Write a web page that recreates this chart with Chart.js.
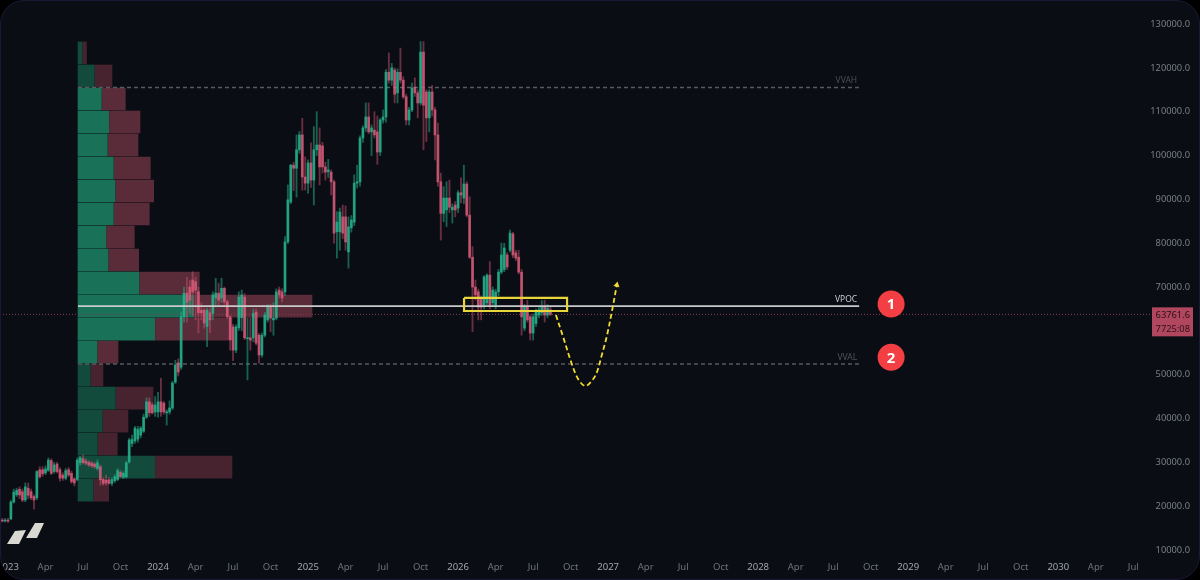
<!DOCTYPE html>
<html>
<head>
<meta charset="utf-8">
<script src="https://cdn.jsdelivr.net/npm/chart.js@4/dist/chart.umd.min.js"></script>
<style>
html,body{margin:0;padding:0;background:#000;width:1200px;height:580px;overflow:hidden}
#frame{position:absolute;left:0;top:0;width:1198px;height:578px;background:#0a0d14;border:1px solid #1c1936;border-radius:24px;overflow:hidden}
#wrap{position:absolute;left:-1px;top:-1px;width:1200px;height:580px}
#logo{position:absolute;left:-1px;top:-1px}
</style>
</head>
<body>
<div id="frame">
<div id="wrap"><canvas id="c" width="1200" height="580"></canvas></div>
<svg id="logo" width="60" height="580"><path fill="#d9d9d2" d="M7 544L15 531L26 530L19 544ZM26 538L35 523L44 523L37 538Z"/></svg>
</div>
<script>
// weekly candles: index 0 is week -2 relative to the first week of 2023
const firstWeek = -2;
const open = [
16700,16600,16800,17100,20950,22600,23850,23300,21400,24100,
23300,22200,21900,28300,28300,27600,28200,30400,27900,29600,
28300,27100,26400,28300,27500,26200,26100,29900,30800,30300,
30000,29800,29600,28600,29000,26100,25900,26000,25200,25800,
26100,27700,26600,26700,30100,34300,34900,35300,36200,37100,
40300,43800,43100,41500,41500,43800,43500,41300,41500,42400,
48300,52700,51700,63200,68600,70000,71600,71200,68900,64700,
64700,61000,64100,64000,67500,68600,67500,69700,66600,63200,
60900,55600,60700,63000,67700,58200,58400,58400,64300,59000,
54500,59000,62500,65400,62500,62900,69300,68900,68900,80300,
89400,97800,97100,101300,104700,95100,93700,98300,94400,101300,
102400,102200,97400,96300,96200,94000,82600,82600,86000,86000,
78000,83500,84800,93700,94000,104000,106300,108800,105400,105800,
105400,100800,108100,108800,119000,117200,119500,114300,119000,117200,
113400,108100,110400,115600,114300,112000,123600,114500,108600,114500,
110400,104700,94000,86800,87600,90300,87600,88700,88000,91500,
90300,93500,86400,76800,70000,68900,67500,65900,66400,72700,
66400,65900,68900,73400,74000,77300,78400,82100,77800,76800,
73400,60600,65400,63200,59500,61700,63600,64100,65400,63600,
64800];
const close = [
16600,16800,16600,20950,23200,23600,22550,21400,24400,22500,
21900,21400,27900,26700,27400,28500,30500,27500,29400,27900,
26400,26400,28100,27100,25600,25300,30500,31000,29900,29800,
29400,29200,29000,29900,26000,25200,25300,25200,26100,26700,
28100,26800,27500,29900,35100,35200,37800,37500,37800,40300,
43800,41300,41300,43100,43800,41500,41500,41500,42400,48100,
52200,50600,63200,68600,66500,67000,68900,69300,64100,64100,
61800,64700,62500,68200,68600,67000,69700,66600,63200,58000,
55600,60900,67700,68200,58400,58400,57900,64000,57200,54500,
59000,63600,65400,62900,62900,68900,68200,67500,80300,89900,
97800,97100,101300,104700,95100,93700,98300,94400,101300,102400,
97400,97400,96200,96700,94000,82300,84800,87100,82300,80300,
83700,85300,93700,94000,104000,106300,108800,105400,106300,104700,
100800,108100,108800,119000,117200,120000,114000,119000,117200,113400,
108100,110400,115400,114300,112000,123600,111500,108600,114500,110400,
104700,94000,86800,90300,90300,88200,88200,87600,91500,91000,
93500,86400,76800,70000,68200,65400,65400,72300,72700,65900,
69300,68900,73400,77300,78900,74600,82300,77300,76600,73400,
63200,65400,62500,59500,63200,64300,64800,65400,63600,65200,
63762];
const high = [
17200,17200,17200,21300,23900,24100,24400,23900,25300,25300,
23900,22600,28100,29000,29000,29200,31000,30800,30000,30000,
28800,27600,28600,28800,28000,26500,31000,31300,31700,30800,
30400,30200,30000,30600,29400,26500,27100,26500,26500,27200,
28600,28200,27900,30200,35500,36200,38200,38200,38200,41000,
44700,44700,43600,45000,46000,49200,43900,42000,44000,48500,
53300,53600,64300,70000,72200,71500,73500,72200,70000,66400,
65200,65200,65200,68900,72000,70900,72000,70000,67000,63500,
61500,61400,68900,69300,68500,62900,62900,65000,65000,59400,
59500,64200,66000,66000,66400,69600,70000,69600,81500,93300,
98000,98500,104700,105500,108500,99700,99000,102900,106600,110000,
106300,103000,98500,99100,96700,94400,87200,88000,88700,88500,
86000,86300,95600,97800,104500,106800,112000,112000,107000,110000,
109000,108500,110400,119600,123400,121000,120000,119800,124500,118000,
114000,111000,116500,117700,115000,126000,126000,115000,115000,116000,
111000,107400,96000,92900,94000,94400,89000,89500,92000,94900,
97800,94000,90600,79200,71600,69500,68000,72600,73000,75800,
70000,69500,74000,80000,80000,77800,83000,82500,78400,78400,
74000,66000,67000,63600,63800,65000,65500,66900,67000,66000,
65500];
const low = [
16400,16400,16300,16900,20700,22200,21700,21000,21000,21700,
21500,19300,21500,26400,26800,27200,27900,27200,27500,27600,
25700,25900,26000,26700,25200,24600,25800,29300,29600,29400,
29000,28800,28600,28200,24800,24800,24800,25000,24700,25400,
25800,26500,26300,26400,29800,33600,34400,34600,35600,36800,
40000,40500,41000,40500,40300,40500,41000,38500,41000,42000,
48000,49700,51200,62000,62000,64000,63500,62500,59500,62500,
60600,56400,59600,62500,66000,66000,66500,66000,62800,55600,
53200,55000,60100,60000,58000,48800,55600,57500,56800,52600,
54000,58600,62000,59800,59000,62500,67500,66600,68000,79900,
89000,92000,90500,100500,92100,92100,91400,92700,88700,100000,
93300,96000,94400,95000,91000,80000,76600,78400,81000,78400,
74300,82500,84000,92600,93000,103000,105500,105000,100000,104000,
98000,100000,107400,107600,116500,116000,112000,112000,116500,113000,
107000,107000,110000,113500,108600,111500,101300,103200,105400,109000,
99000,93000,80700,84900,83800,87000,84600,86000,87000,89200,
89000,86000,76500,59800,67000,62500,62500,65000,66000,65000,
65500,65000,68000,73000,73500,74000,78000,76700,76000,73000,
59000,60000,62000,57900,57900,61000,63000,63500,62000,63000,
63500];

// session volume profile, top row to bottom row
const profilePrice = [123400,118150,112900,107650,102400,97150,91900,86650,81400,76150,70900,65650,60400,55150,49900,44650,39400,34150,28900,23650];
const buyVolume  = [4,16.3,23.3,30.7,29.3,35.3,37,35.3,28,30,61,116,76.7,19,12.3,37.3,24.3,19.3,76.7,15];
const sellVolume = [4.5,17.7,24,31.3,30.7,37,38.7,36,28.3,30.7,60.3,118,77.3,21,12.7,37.7,25.7,20,77.3,15.7];
const inValueArea = [0,0,1,1,1,1,1,1,1,1,1,1,1,1,0,0,0,0,0,0];

const vah = 115520, vpoc = 65650, val = 52440;
const levelStartWeek = 24.26, levelEndWeek = 295;
const lastPrice = 63761.6;
const lastPriceText = "63761.6";
const countdownText = "7725:08";
const priceTicks = [10000,20000,30000,40000,50000,60000,70000,80000,90000,100000,110000,120000,130000];
const timeTicks = ["2023","Apr","Jul","Oct","2024","Apr","Jul","Oct","2025","Apr","Jul","Oct","2026","Apr","Jul","Oct","2027","Apr","Jul","Oct","2028","Apr","Jul","Oct","2029","Apr","Jul","Oct","2030","Apr","Jul"];
const weeksPerTick = 13;

const boxWeeks = [158.06,193.76], boxPrices = [67500,64530];
const pathWeeks = [189.9,192.3,195.3,197.6,200,202,204,205.9,207.5,209.4,211];
const pathPrices = [63615,58824,52664,49014,47417,48329,50383,54717,58665,64756,70460];
const markerWeeks = [306.07,306.07], markerPrices = [66125,53965], markerLabels = ["1","2"];

const xMin = -2.773, xMax = 395.8, yMin = 7718, yMax = 135483;
const FONT = '"Noto Sans", sans-serif';

const idx = open.map((_, i) => i);
const upIdx = idx.filter(i => close[i] >= open[i]);
const dnIdx = idx.filter(i => close[i] < open[i]);
const wick = list => list.map(i => ({x: firstWeek + i, y: [low[i], high[i]]}));
const body = list => list.map(i => ({x: firstWeek + i, y: [Math.min(open[i], close[i]), Math.max(open[i], close[i])]}));

const barBase = {type: 'bar', grouped: false, borderWidth: 0, borderSkipped: false, xAxisID: 'x', yAxisID: 'y'};
const profileRows = (pick, color, ord) => ({
  type: 'bar', indexAxis: 'y', xAxisID: 'xVol', yAxisID: 'y', grouped: false, barThickness: 22,
  borderWidth: 0, borderSkipped: false, order: ord,
  backgroundColor: profilePrice.map((_, i) => inValueArea[i] ? color[0] : color[1]),
  data: profilePrice.map((p, i) => ({y: p, x: pick(i)}))
});
const levelLine = (v, color, width, dash, ord) => ({
  type: 'line', data: [{x: levelStartWeek, y: v}, {x: levelEndWeek, y: v}],
  borderColor: color, borderWidth: width, borderDash: dash, pointRadius: 0, order: ord, xAxisID: 'x', yAxisID: 'y'
});

const levelText = {
  id: 'levelText',
  afterDraw(chart) {
    const {ctx, scales: {x, y}} = chart;
    ctx.save();
    ctx.font = '8.5px ' + FONT;
    ctx.textAlign = 'right';
    ctx.textBaseline = 'alphabetic';
    const xr = x.getPixelForValue(levelEndWeek) - 2;
    [['VVAH', vah, '#4b4e55'], ['VPOC', vpoc, '#c9c9c9'], ['VVAL', val, '#50535a']].forEach(t => {
      ctx.fillStyle = t[2];
      ctx.fillText(t[0], xr, y.getPixelForValue(t[1]) - 4);
    });
    ctx.font = 'bold 15px ' + FONT;
    ctx.textAlign = 'center';
    ctx.textBaseline = 'middle';
    ctx.fillStyle = '#ffffff';
    markerLabels.forEach((m, i) => ctx.fillText(m, x.getPixelForValue(markerWeeks[i]), y.getPixelForValue(markerPrices[i]) + 1));
    // last price tag
    const py = y.getPixelForValue(lastPrice);
    const rx = chart.chartArea.right + 2;
    ctx.fillStyle = '#b0475f';
    ctx.fillRect(rx, py - 7, 41, 29);
    ctx.fillStyle = '#2a1118';
    ctx.font = '9.3px ' + FONT;
    ctx.textAlign = 'right';
    ctx.fillText(lastPriceText, rx + 38, py + 0.5);
    ctx.fillText(countdownText, rx + 38, py + 15);
    ctx.restore();
  }
};

new Chart(document.getElementById('c'), {
  type: 'bar',
  data: {
    datasets: [
      profileRows(i => [0, buyVolume[i]], ['#197258', '#124a3c'], 30),
      profileRows(i => [buyVolume[i] + 0.7, buyVolume[i] + sellVolume[i]], ['#5a2b38', '#47232f'], 30),
      {type: 'line', data: [{x: xMin, y: lastPrice}, {x: xMax, y: lastPrice}], borderColor: '#8a3b50', borderWidth: 1, borderDash: [1, 2], pointRadius: 0, order: 25},
      levelLine(vah, '#565b60', 1.3, [4, 3], 24),
      levelLine(val, '#565b60', 1.3, [4, 3], 24),
      {...barBase, barThickness: 1.2, minBarLength: 1, backgroundColor: 'rgba(38,165,130,0.55)', data: wick(upIdx), order: 20},
      {...barBase, barThickness: 1.2, minBarLength: 1, backgroundColor: 'rgba(200,82,110,0.5)', data: wick(dnIdx), order: 20},
      {...barBase, barThickness: 2.1, minBarLength: 1, backgroundColor: 'rgba(38,180,142,0.8)', data: body(upIdx), order: 15},
      {...barBase, barThickness: 2.1, minBarLength: 1, backgroundColor: 'rgba(216,94,124,0.8)', data: body(dnIdx), order: 15},
      levelLine(vpoc, '#c9cbcb', 1.8, [], 10),
      {type: 'line', data: [{x: boxWeeks[0], y: boxPrices[0]}, {x: boxWeeks[1], y: boxPrices[0]}, {x: boxWeeks[1], y: boxPrices[1]}, {x: boxWeeks[0], y: boxPrices[1]}, {x: boxWeeks[0], y: boxPrices[0]}],
        borderColor: '#e8d63a', borderWidth: 2.2, pointRadius: 0, order: 8, borderJoinStyle: 'miter'},
      {type: 'line', data: pathWeeks.map((w, i) => ({x: w, y: pathPrices[i]})), borderColor: '#f2dc2e', borderWidth: 1.8, borderDash: [5, 3], tension: 0.35,
        pointRadius: pathWeeks.map((_, i) => i === pathWeeks.length - 1 ? 3.5 : 0),
        pointStyle: 'triangle', pointRotation: 12, pointBackgroundColor: '#f2dc2e', pointBorderWidth: 0, order: 7},
      {type: 'line', showLine: false, data: markerWeeks.map((w, i) => ({x: w, y: markerPrices[i]})), pointRadius: 13.5, pointBackgroundColor: '#f33f43', pointBorderWidth: 0, order: 5}
    ]
  },
  options: {
    responsive: false,
    animation: false,
    events: [],
    layout: {autoPadding: false, padding: {left: 0, right: 10, top: 0, bottom: 0}},
    plugins: {legend: {display: false}, tooltip: {enabled: false}},
    scales: {
      x: {
        type: 'linear', position: 'bottom', min: xMin, max: xMax, offset: false,
        grid: {display: false, drawTicks: false}, border: {display: false},
        afterBuildTicks: s => { s.ticks = timeTicks.map((_, i) => ({value: i * weeksPerTick})); },
        afterFit: s => { s.height = 20; s.paddingLeft = 0; s.paddingRight = 0; },
        ticks: {
          autoSkip: false, maxRotation: 0, padding: 2,
          font: {family: FONT, size: 9.5},
          color: c => /^\d/.test(timeTicks[c.index]) ? '#a2a6ad' : '#6f737b',
          callback: (v, i) => timeTicks[i]
        }
      },
      xVol: {type: 'linear', display: false, min: -78, max: 1072, offset: false, grid: {display: false}},
      y: {
        type: 'linear', position: 'right', min: yMin, max: yMax, offset: false,
        grid: {display: false}, border: {display: false},
        afterBuildTicks: s => { s.ticks = priceTicks.map(v => ({value: v})); },
        afterFit: s => { s.width = 40; s.paddingTop = 0; s.paddingBottom = 0; },
        ticks: {
          padding: 3, crossAlign: 'far', autoSkip: false,
          font: {family: FONT, size: 9.3}, color: '#7a7e86',
          callback: v => Number(v).toFixed(1)
        }
      }
    }
  },
  plugins: [levelText]
});
</script>
</body>
</html>
